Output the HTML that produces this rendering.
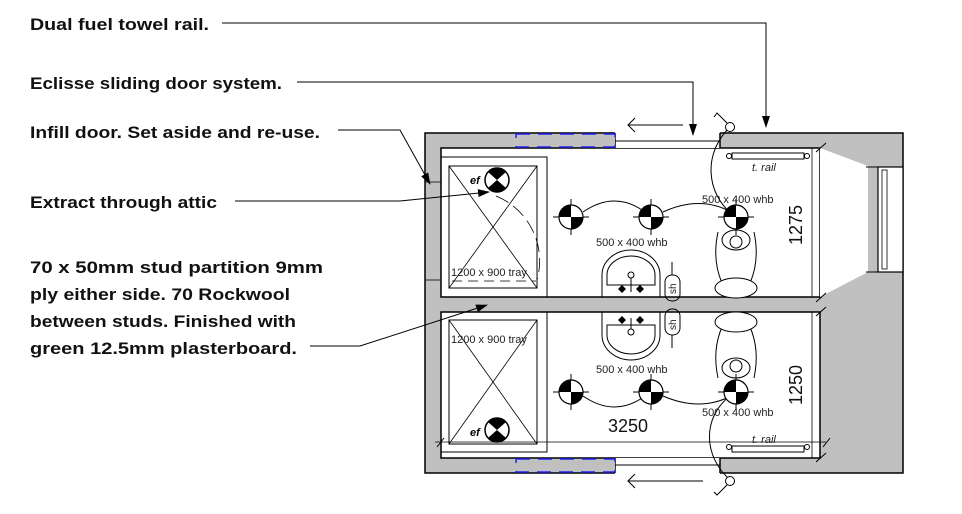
<!DOCTYPE html>
<html><head><meta charset="utf-8"><style>
html,body{margin:0;padding:0;background:#fff;}
svg{display:block;font-family:"Liberation Sans",sans-serif;}
.l{font-weight:bold;font-size:16.5px;fill:#111;}
.s{font-size:11px;fill:#222;}
</style></head><body>
<svg width="962" height="514" viewBox="0 0 962 514" xmlns="http://www.w3.org/2000/svg">
<defs>
<marker id="ah" markerWidth="12" markerHeight="8" refX="11" refY="4" orient="auto" markerUnits="userSpaceOnUse"><path d="M0,0 L12,4 L0,8 z" fill="#000"/></marker>
<g id="fit"><line x1="-18" y1="0" x2="18" y2="0" stroke="#000" stroke-width="1"/><line x1="0" y1="-18" x2="0" y2="18" stroke="#000" stroke-width="1"/><circle r="12" fill="#fff" stroke="#000" stroke-width="1.2"/><path d="M0,0 L-12,0 A12,12 0 0,1 0,-12 z" fill="#000"/><path d="M0,0 L12,0 A12,12 0 0,1 0,12 z" fill="#000"/></g>
<g id="ef"><circle r="12" fill="#fff" stroke="#000" stroke-width="1.5"/><path d="M0,0 L-9,-8 A12,12 0 0,1 9,-8 z" fill="#000"/><path d="M0,0 L-9,8 A12,12 0 0,0 9,8 z" fill="#000"/></g>
</defs>
<!-- labels -->
<text class="l" x="30" y="30" textLength="179" lengthAdjust="spacingAndGlyphs">Dual fuel towel rail.</text>
<text class="l" x="30" y="89" textLength="252" lengthAdjust="spacingAndGlyphs">Eclisse sliding door system.</text>
<text class="l" x="30" y="138" textLength="290" lengthAdjust="spacingAndGlyphs">Infill door. Set aside and re-use.</text>
<text class="l" x="30" y="208" textLength="187" lengthAdjust="spacingAndGlyphs">Extract through attic</text>
<text class="l" x="30" y="273" textLength="293" lengthAdjust="spacingAndGlyphs">70 x 50mm stud partition 9mm</text>
<text class="l" x="30" y="300" textLength="260" lengthAdjust="spacingAndGlyphs">ply either side. 70 Rockwool</text>
<text class="l" x="30" y="327" textLength="266" lengthAdjust="spacingAndGlyphs">between studs. Finished with</text>
<text class="l" x="30" y="354" textLength="267" lengthAdjust="spacingAndGlyphs">green 12.5mm plasterboard.</text>
<!-- walls -->
<rect x="425" y="133" width="478" height="340" fill="#c0c0c0" stroke="#000" stroke-width="1.5"/>
<rect x="441" y="148" width="379" height="149" fill="#fff" stroke="#000" stroke-width="1.5"/>
<rect x="441" y="312" width="379" height="146" fill="#fff" stroke="#000" stroke-width="1.5"/>
<line x1="425" y1="182" x2="441" y2="182" stroke="#000" stroke-width="0.8"/>
<line x1="425" y1="280" x2="441" y2="280" stroke="#000" stroke-width="0.8"/>
<!-- door openings -->
<rect x="615" y="132" width="105" height="16" fill="#fff"/>
<line x1="615" y1="141" x2="720" y2="141" stroke="#000"/>
<line x1="615" y1="133" x2="615" y2="148" stroke="#000" stroke-width="1.5"/><line x1="720" y1="133" x2="720" y2="148" stroke="#000" stroke-width="1.5"/>
<rect x="615" y="458" width="105" height="16" fill="#fff"/>
<line x1="615" y1="465" x2="720" y2="465" stroke="#000"/>
<line x1="615" y1="458" x2="615" y2="473" stroke="#000" stroke-width="1.5"/><line x1="720" y1="458" x2="720" y2="473" stroke="#000" stroke-width="1.5"/>
<!-- blue pocket -->
<rect x="516" y="134" width="99" height="13" fill="#c0c0c0" stroke="#22e" stroke-width="1.5" stroke-dasharray="14,8"/>
<rect x="516" y="459" width="99" height="13" fill="#c0c0c0" stroke="#22e" stroke-width="1.5" stroke-dasharray="14,8"/>
<!-- window light wedge -->
<polygon points="820,148 868,166 868,272 820,297" fill="#fff"/>
<rect x="878" y="167" width="25" height="105" fill="#fff" stroke="#000" stroke-width="1.2"/>
<rect x="882" y="170" width="5" height="99" fill="none" stroke="#000" stroke-width="0.8"/>
<line x1="866" y1="167" x2="878" y2="167" stroke="#000"/><line x1="866" y1="272" x2="878" y2="272" stroke="#000"/>
<line x1="812" y1="148" x2="812" y2="297" stroke="#000" stroke-width="0.8"/>
<line x1="812" y1="312" x2="812" y2="458" stroke="#000" stroke-width="0.8"/>
<!-- sliding arrows -->
<g stroke="#000" stroke-width="1" fill="none">
<line x1="628" y1="125" x2="683" y2="125"/><polyline points="635,118 628,125 635,132"/>
<line x1="628" y1="481" x2="703" y2="481"/><polyline points="635,474 628,481 635,488"/>
<circle cx="730" cy="127" r="4.5" fill="#fff"/><polyline points="727,123 717,113 714,117"/>
<circle cx="730" cy="481" r="4.5" fill="#fff"/><polyline points="727,485 717,495 714,492"/>
<path d="M727,130 C700,160 710,200 736,217"/>
<path d="M727,477 C700,450 705,410 736,392"/>
</g>
<!-- showers -->
<g stroke="#000" fill="none">
<rect x="441" y="157" width="106" height="140" stroke-width="1"/>
<rect x="449" y="166" width="88" height="122" stroke-width="1"/>
<line x1="449" y1="166" x2="537" y2="288" stroke-width="0.8"/><line x1="537" y1="166" x2="449" y2="288" stroke-width="0.8"/>
<path d="M496,196 A70,70 0 0,1 537,280" stroke-dasharray="14,6" stroke-width="0.8"/>
<line x1="452" y1="281" x2="536" y2="281" stroke-dasharray="10,6" stroke-width="0.8"/>
<rect x="441" y="312" width="106" height="140" stroke-width="1"/>
<rect x="449" y="320" width="88" height="124" stroke-width="1"/>
<line x1="449" y1="320" x2="537" y2="444" stroke-width="0.8"/><line x1="537" y1="320" x2="449" y2="444" stroke-width="0.8"/>
</g>
<text class="s" x="451" y="276">1200 x 900 tray</text>
<text class="s" x="451" y="343">1200 x 900 tray</text>
<use href="#ef" x="497" y="180"/><text x="470" y="184" font-size="11" font-style="italic" font-weight="bold">ef</text>
<use href="#ef" x="497" y="430"/><text x="470" y="436" font-size="11" font-style="italic" font-weight="bold">ef</text>
<!-- fittings arcs -->
<g stroke="#000" fill="none" stroke-width="1">
<path d="M583,212 Q615,190 645,212"/><path d="M663,212 Q700,195 731,212"/>
<path d="M583,396 Q615,418 645,396"/><path d="M663,396 Q700,412 731,396"/>
</g>
<use href="#fit" x="571" y="217"/><use href="#fit" x="651" y="217"/><use href="#fit" x="736" y="217"/>
<use href="#fit" x="571" y="392"/><use href="#fit" x="651" y="392"/><use href="#fit" x="736" y="392"/>
<text class="s" x="596" y="246">500 x 400 whb</text>
<text class="s" x="702" y="203">500 x 400 whb</text>
<text class="s" x="596" y="373">500 x 400 whb</text>
<text class="s" x="702" y="416">500 x 400 whb</text>
<!-- basins -->
<g stroke="#000" fill="none" stroke-width="1">
<path d="M602,297 L602,275 A29,25 0 0,1 660,275 L660,297"/>
<path d="M607,285 L607,275 A24,19 0 0,1 655,275 L655,285 Z"/>
<path d="M602,312 L602,335 A29,25 0 0,0 660,335 L660,312"/>
<path d="M607,325 L607,335 A24,19 0 0,0 655,335 L655,325 Z"/>
<rect x="665" y="275" width="15" height="26" rx="7"/>
<rect x="665" y="309" width="15" height="26" rx="7"/>
<line x1="672" y1="262" x2="672" y2="275"/><line x1="672" y1="335" x2="672" y2="348"/>
<circle cx="631" cy="275" r="3"/><line x1="631" y1="278" x2="631" y2="292"/>
<circle cx="631" cy="332" r="3"/><line x1="631" y1="318" x2="631" y2="329"/>
<!-- WC -->
<path d="M718,232 Q712,260 722,283 L750,283 Q760,260 754,232"/>
<ellipse cx="736" cy="240" rx="14" ry="10"/><circle cx="736" cy="242" r="6"/>
<ellipse cx="736" cy="288" rx="21" ry="10" fill="#fff"/>
<path d="M718,378 Q712,350 722,327 L750,327 Q760,350 754,378"/>
<ellipse cx="736" cy="368" rx="14" ry="10"/><circle cx="736" cy="366" r="6"/>
<ellipse cx="736" cy="322" rx="21" ry="10" fill="#fff"/>
<!-- towel rails -->
<rect x="732" y="153" width="72" height="6"/><circle cx="729" cy="156" r="2.5"/><circle cx="807" cy="156" r="2.5"/>
<rect x="732" y="446" width="72" height="6"/><circle cx="729" cy="447" r="2.5"/><circle cx="807" cy="447" r="2.5"/>
<!-- dims -->
<line x1="435" y1="442" x2="826" y2="442" stroke-width="0.7"/>
<line x1="437" y1="447" x2="444" y2="438"/><line x1="823" y1="447" x2="830" y2="438"/>
<line x1="816" y1="152" x2="826" y2="143"/><line x1="816" y1="302" x2="826" y2="293"/>
<line x1="816" y1="316" x2="826" y2="307"/><line x1="816" y1="462" x2="826" y2="453"/>
</g>
<g fill="#000">
<path d="M618,289 l4,-4 4,4 -4,4z"/><path d="M636,289 l4,-4 4,4 -4,4z"/>
<path d="M618,320 l4,-4 4,4 -4,4z"/><path d="M636,320 l4,-4 4,4 -4,4z"/>
</g>
<text font-size="10" fill="#222" transform="translate(676,294) rotate(-90)">sh</text>
<text font-size="10" fill="#222" transform="translate(676,330) rotate(-90)">sh</text>
<text x="752" y="171" font-size="11" font-style="italic" fill="#222">t. rail</text>
<text x="752" y="443" font-size="11" font-style="italic" fill="#222">t. rail</text>
<text x="608" y="432" font-size="18" fill="#111">3250</text>
<text x="0" y="0" font-size="18" fill="#111" transform="translate(802,245) rotate(-90)">1275</text>
<text x="0" y="0" font-size="18" fill="#111" transform="translate(802,405) rotate(-90)">1250</text>
<!-- leaders on top -->
<g stroke="#000" stroke-width="1" fill="none">
<polyline points="222,23 766,23 766,127" marker-end="url(#ah)"/>
<polyline points="297,82 693,82 693,135" marker-end="url(#ah)"/>
<polyline points="338,130 400,130 430,184" marker-end="url(#ah)"/>
<polyline points="235,201 400,201 489,192" marker-end="url(#ah)"/>
<polyline points="310,346 360,346 487,305" marker-end="url(#ah)"/>
</g>
</svg>
</body></html>
